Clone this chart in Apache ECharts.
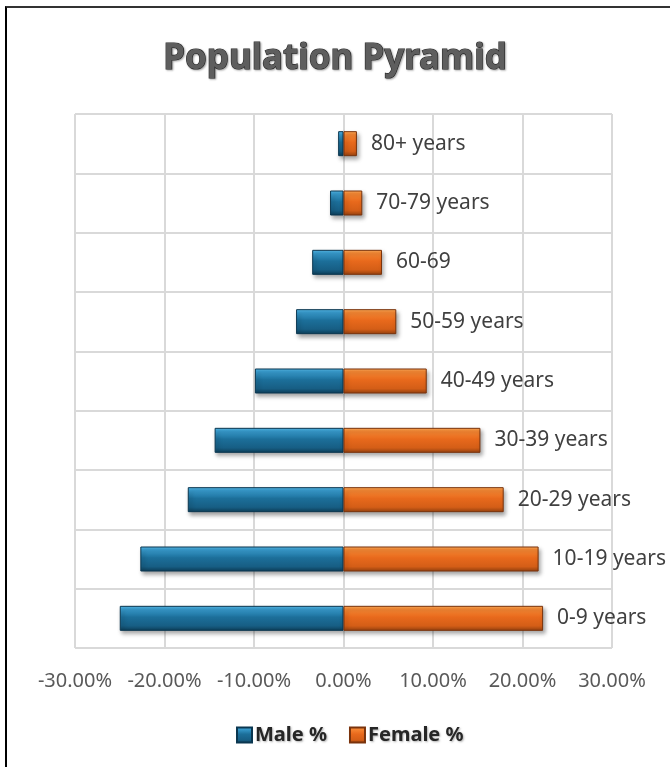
<!DOCTYPE html>
<html>
<head>
<meta charset="utf-8">
<script src="https://cdn.jsdelivr.net/npm/echarts@6/dist/echarts.min.js"></script>
<style>
html,body{margin:0;padding:0;background:#fff;overflow:hidden;}
#frame{position:absolute;left:5px;top:6px;width:720px;height:820px;border-top:2px solid #333;border-left:2px solid #000;pointer-events:none;z-index:2;}
#chart{position:absolute;left:0;top:0;width:670px;height:767px;z-index:1;}
</style>
</head>
<body>
<div id="chart"></div>
<div id="frame"></div>
<script>
const categories = ['0-9 years','10-19 years','20-29 years','30-39 years','40-49 years','50-59 years','60-69','70-79 years','80+ years'];
const maleShare = [-25.0, -22.7, -17.4, -14.4, -9.9, -5.3, -3.5, -1.5, -0.6];
const femaleShare = [22.3, 21.8, 17.9, 15.3, 9.3, 5.9, 4.3, 2.1, 1.5];
const axisMin = -30, axisMax = 30, axisStep = 10;

const FONT = '"Noto Sans", "Open Sans", sans-serif';

function vgrad(stops){
  return new echarts.graphic.LinearGradient(0,0,0,1, stops.map(s=>({offset:s[0],color:s[1]})));
}
const blueFill = vgrad([[0,'#5bbce9'],[0.12,'#3a9fd2'],[0.45,'#1c6f9a'],[0.8,'#175e84'],[1,'#0d3d57']]);
const orangeFill = vgrad([[0,'#ffb060'],[0.12,'#f88a35'],[0.45,'#e8691c'],[0.8,'#d45e17'],[1,'#93400f']]);

const chart = echarts.init(document.getElementById('chart'), null, {renderer:'canvas'});
chart.setOption({
  animation:false,
  backgroundColor:'#ffffff',
  title:{
    text:'Population Pyramid',
    left:'center',
    top:37,
    textStyle:{
      fontFamily:FONT, fontSize:35, fontWeight:'bold', color:'#5e5e5e',
      textBorderColor:'#2e2e2e', textBorderWidth:1.2,
      textShadowColor:'rgba(0,0,0,0.3)', textShadowBlur:2, textShadowOffsetX:1, textShadowOffsetY:1
    }
  },
  legend:{
    bottom:17,
    left:231,
    itemWidth:15, itemHeight:15, itemGap:22,
    icon:'rect',
    textStyle:{fontFamily:FONT, fontSize:20, fontWeight:'bold', color:'#262626', padding:[0,0,0,-2],
      textShadowColor:'rgba(0,0,0,0.3)', textShadowBlur:2, textShadowOffsetX:1, textShadowOffsetY:1},
    data:['Male %','Female %']
  },
  grid:{left:75, right:58, top:114, bottom:119, containLabel:false},
  xAxis:{
    type:'value', min:axisMin, max:axisMax, interval:axisStep,
    axisLine:{show:false}, axisTick:{show:false},
    splitLine:{show:true, lineStyle:{color:'#d9d9d9', width:2}},
    axisLabel:{margin:23, fontFamily:FONT, fontSize:20, color:'#595959',
      formatter:v=>v.toFixed(2)+'%'}
  },
  yAxis:{
    type:'category', data:categories,
    axisLine:{show:false}, axisTick:{show:false}, axisLabel:{show:false},
    splitLine:{show:true, lineStyle:{color:'#d9d9d9', width:2}}
  },
  series:[
    {
      name:'Male %', type:'bar', stack:'pop', data:maleShare, barWidth:25,
      itemStyle:{color:blueFill, borderColor:'#0b3750', borderWidth:1,
        shadowColor:'rgba(0,0,0,0.35)', shadowBlur:4, shadowOffsetX:2, shadowOffsetY:3}
    },
    {
      name:'Female %', type:'bar', stack:'pop', data:femaleShare, barWidth:25,
      itemStyle:{color:orangeFill, borderColor:'#7a330c', borderWidth:1,
        shadowColor:'rgba(0,0,0,0.35)', shadowBlur:4, shadowOffsetX:2, shadowOffsetY:3},
      label:{show:true, position:'right', distance:14, formatter:p=>p.name,
        fontFamily:FONT, fontSize:21, color:'#404040'}
    }
  ]
});
</script>
</body>
</html>
